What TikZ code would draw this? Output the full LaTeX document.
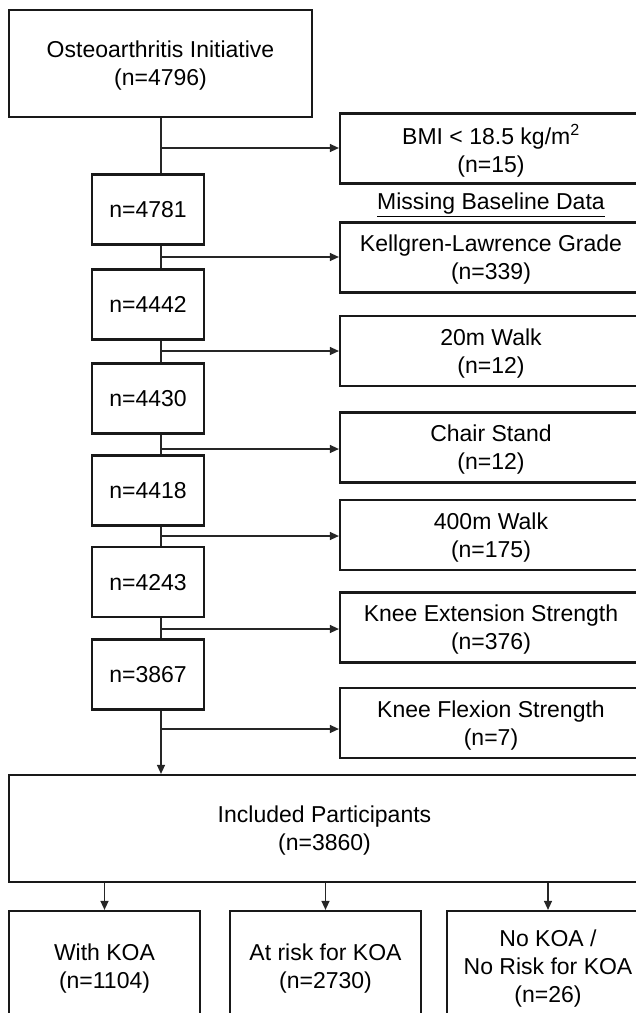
\documentclass[tikz,border=0pt]{standalone}
\usepackage{fontspec}
\setmainfont{Liberation Sans}
\usepackage{tikz}
\usetikzlibrary{arrows.meta}
\usetikzlibrary{calc}

\begin{document}
\begin{tikzpicture}[x=1pt, y=-1pt,
    every node/.style={font=\fontsize{23}{28}\selectfont, align=center, inner sep=0pt},
    box/.style={draw=black!90, line width=2.2pt, minimum height=70pt, text depth=0pt},
    countbox/.style={box, minimum width=112pt},
    lossbox/.style={box, minimum width=302pt},
    groupbox/.style={box, minimum height=110pt},
    link/.style={draw=black!85, line width=1.3pt},
    linkarrow/.style={link, -{Triangle[length=9pt, width=8pt]}}]
            \useasboundingbox (0,0) rectangle (636,1013);
            \clip (0,0) rectangle (636,1013);

            % cohort
            \node[box, minimum width=303pt, minimum height=107pt] (oai) at (160.5,63.5)
                {Osteoarthritis Initiative\\(n=4796)};
            \coordinate (spine) at (161,63.5);

            % remaining counts
            \node[countbox] (n4781) at (148,209.5) {n=4781};
            \node[countbox] (n4442) at (148,304.5) {n=4442};
            \node[countbox] (n4430) at (148,398.5) {n=4430};
            \node[countbox] (n4418) at (148,490.5) {n=4418};
            \node[countbox] (n4243) at (148,582) {n=4243};
            \node[countbox] (n3867) at (148,674.5) {n=3867};

            % exclusions
            \node[lossbox] (bmi) at (491,148.5) {BMI < 18.5 kg/m\textsuperscript{2}\\(n=15)};
            \node (missing) at (491,205) {\underline{Missing Baseline Data}};
            \node[lossbox] (klg) at (491,257.5) {Kellgren-Lawrence Grade\\(n=339)};
            \node[lossbox] (walk20) at (491,351) {20m Walk\\(n=12)};
            \node[lossbox] (chair) at (491,447.5) {Chair Stand\\(n=12)};
            \node[lossbox] (walk400) at (491,535) {400m Walk\\(n=175)};
            \node[lossbox] (kext) at (491,627.5) {Knee Extension Strength\\(n=376)};
            \node[lossbox] (kflex) at (491,723) {Knee Flexion Strength\\(n=7)};

            % final sample and groups
            \node[box, minimum width=631pt, minimum height=107pt] (incl) at (324.5,828.5)
                {Included Participants\\(n=3860)};
            \node[groupbox, minimum width=191pt] (withkoa) at (104.5,966) {With KOA\\(n=1104)};
            \node[groupbox, minimum width=191pt] (atrisk) at (325.5,966) {At risk for KOA\\(n=2730)};
            \node[groupbox, minimum width=202pt] (nokoa) at (548,966)
                {No KOA /\\No Risk for KOA\\(n=26)};

            % vertical spine
            \draw[link] (oai.south -| spine) -- (n4781.north -| spine);
            \draw[link] (n4781.south -| spine) -- (n4442.north -| spine);
            \draw[link] (n4442.south -| spine) -- (n4430.north -| spine);
            \draw[link] (n4430.south -| spine) -- (n4418.north -| spine);
            \draw[link] (n4418.south -| spine) -- (n4243.north -| spine);
            \draw[link] (n4243.south -| spine) -- (n3867.north -| spine);
            \draw[linkarrow] (n3867.south -| spine) -- (incl.north -| spine);

            % branch points
            \coordinate (b1) at (161,148);
            \coordinate (b2) at (161,257);
            \coordinate (b3) at (161,351);
            \coordinate (b4) at (161,449);
            \coordinate (b5) at (161,536);
            \coordinate (b6) at (161,629);
            \coordinate (b7) at (161,729);
            \draw[linkarrow] (b1) -- (b1 -| bmi.west);
            \draw[linkarrow] (b2) -- (b2 -| klg.west);
            \draw[linkarrow] (b3) -- (b3 -| walk20.west);
            \draw[linkarrow] (b4) -- (b4 -| chair.west);
            \draw[linkarrow] (b5) -- (b5 -| walk400.west);
            \draw[linkarrow] (b6) -- (b6 -| kext.west);
            \draw[linkarrow] (b7) -- (b7 -| kflex.west);

            % split into groups
            \draw[linkarrow] (incl.south -| withkoa) -- (withkoa.north);
            \draw[linkarrow] (incl.south -| atrisk) -- (atrisk.north);
            \draw[linkarrow] (incl.south -| nokoa) -- (nokoa.north);
        \end{tikzpicture}
\end{document}
